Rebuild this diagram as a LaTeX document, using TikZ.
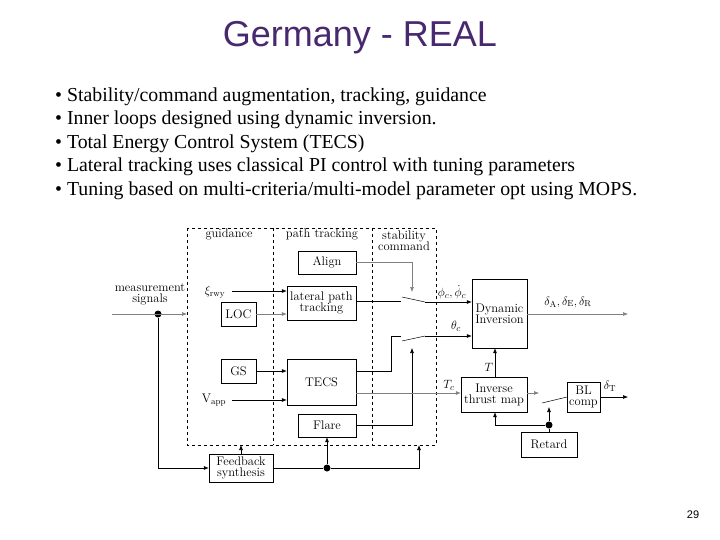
\documentclass[tikz,border=0pt]{standalone}
\usepackage{fontspec}
\usepackage{amsmath}
\newfontfamily\titlefont{Liberation Sans}
\newfontfamily\bodyfont{Liberation Serif}
\usetikzlibrary{arrows.meta}
\definecolor{titlepurple}{RGB}{72,40,110}
\tikzset{
  blk/.style={draw,inner sep=0pt,font=\fontsize{12.5}{13}\selectfont,align=center},
  lbl/.style={inner sep=0pt,font=\fontsize{12.5}{13}\selectfont,align=center},
  con/.style={-{Latex[length=5pt,width=4pt]},line width=0.6pt},
  zone/.style={draw,dashed,line width=0.5pt},
  dot/.style={circle,fill,inner sep=0pt,minimum size=7pt},
  bullet/.style={anchor=west,inner sep=0pt,font=\bodyfont\fontsize{19.8}{22}\selectfont}
}
\begin{document}
\begin{tikzpicture}[x=1pt,y=-1pt]
\useasboundingbox (0,0) rectangle (720,540);
% title and bullets
\node (title) at (360,38) {\titlefont\fontsize{36}{40}\selectfont\color{titlepurple}Germany - REAL};
\node[bullet] (b1) at (55,97) {\textbullet\ Stability/command augmentation, tracking, guidance};
\node[bullet] (b2) at (55,120) {\textbullet\ Inner loops designed using dynamic inversion.};
\node[bullet] (b3) at (55,144) {\textbullet\ Total Energy Control System (TECS)};
\node[bullet] (b4) at (55,167) {\textbullet\ Lateral tracking uses classical PI control with tuning parameters};
\node[bullet] (b5) at (55,191) {\textbullet\ Tuning based on multi-criteria/multi-model parameter opt using MOPS.};
\node (page) at (693,515) {\titlefont\fontsize{11}{12}\selectfont 29};
% dashed zones
\draw[zone] (187,228) rectangle (436,445);
\draw[zone] (273,228) -- (273,445);
\draw[zone] (372,228) -- (372,445);
\node[lbl] (tguid) at (229,234) {guidance};
\node[lbl] (tpath) at (322,234) {path tracking};
\node[lbl] (tstab) at (404,241) {stability\\[-2pt]command};
% blocks
\node[blk,minimum width=58pt,minimum height=23pt] (align) at (327,262.5) {Align};
\node[blk,minimum width=69pt,minimum height=34pt] (lat) at (321.5,303) {lateral path\\[-2pt]tracking};
\node[blk,minimum width=35pt,minimum height=24pt] (loc) at (238.5,314) {LOC};
\node[blk,minimum width=35pt,minimum height=24pt] (gs) at (238.5,371) {GS};
\node[blk,minimum width=69pt,minimum height=46pt] (tecs) at (321.5,382) {TECS};
\node[blk,minimum width=58pt,minimum height=23pt] (flare) at (327,425.5) {Flare};
\node[blk,minimum width=64pt,minimum height=28pt] (fbs) at (241,468) {Feedback\\[-2pt]synthesis};
\node[blk,minimum width=55pt,minimum height=69pt] (dyn) at (499.5,313.5) {Dynamic\\[-2pt]Inversion};
\node[blk,minimum width=66pt,minimum height=35pt] (itm) at (494,394.5) {Inverse\\[-2pt]thrust map};
\node[blk,minimum width=33pt,minimum height=30pt] (bl) at (583.5,397) {BL\\[-2pt]comp};
\node[blk,minimum width=56pt,minimum height=25pt] (ret) at (549,444.5) {Retard};
% free labels
\node[lbl] (meas) at (150,294) {measurement\\[-2pt]signals};
\node[lbl] (xi) at (215,292) {$\xi_{\mathrm{rwy}}$};
\node[lbl] (vapp) at (214,400) {$\mathrm{V_{app}}$};
\node[lbl] (phi) at (452,292) {$\phi_c,\dot\phi_c$};
\node[lbl] (theta) at (456,326) {$\theta_c$};
\node[lbl] (tlbl) at (489,367) {$T$};
\node[lbl] (tclbl) at (449,385) {$T_c$};
\node[lbl] (dlbl) at (568,302) {$\delta_{\mathrm A},\delta_{\mathrm E},\delta_{\mathrm R}$};
\node[lbl] (dtlbl) at (610,386) {$\delta_{\mathrm T}$};
% coordinates
\coordinate (min) at (112,314);
\coordinate (zin) at (187,314);
\coordinate (xis) at (232,291);
\coordinate (vas) at (232,400);
\coordinate (sw1a) at (402,297);
\coordinate (sw1b) at (425,302);
\coordinate (sw2a) at (402,341);
\coordinate (sw2b) at (425,336);
\coordinate (sw3a) at (542,403);
\coordinate (sw3b) at (567,397);
\coordinate (outA) at (628,314);
\coordinate (outT) at (628,397);
\node[dot] (d1) at (158,314) {};
\node[dot] (d2) at (327,468) {};
\node[dot] (d3) at (549,425) {};
% connectors
\draw[con,gray] (min) -- (zin);
\draw[con] (d1) |- (fbs.west);
\draw[con] (xis) -- (lat.west |- xis);
\draw[con,gray] (loc.east) -- (lat.west |- loc);
\draw[con] (gs.east) -- (tecs.west |- gs);
\draw[con] (vas) -- (tecs.west |- vas);
\draw[con] (fbs.north) -- (fbs.north |- 0,445);
\draw[line width=0.7pt] (fbs.east) -- (d2);
\draw[con] (d2) -- (flare.south);
\draw[con,line width=0.7pt] (d2) -| (419,445);
\draw[line width=0.7pt] (lat.east |- 0,301) -- (401,301);
\draw[line width=0.5pt] (sw1a) -- (sw1b);
\draw[con] (sw1b) -- (dyn.west |- sw1b);
\draw[con,gray] (align.east) -| (412,292);
\draw[line width=0.7pt] (tecs.east |- 0,371) -| (391,336) -- (401,336);
\draw[line width=0.5pt] (sw2a) -- (sw2b);
\draw[con] (sw2b) -- (dyn.west |- sw2b);
\draw[con] (flare.east) -| (412,348);
\draw[con,gray] (tecs.east |- 0,393) -- (itm.west |- 0,393);
\draw[con] (itm.north -| 495,0) -- (dyn.south -| 495,0);
\draw[con,gray] (dyn.east |- outA) -- (outA);
\draw[con,gray] (itm.east |- 0,393) -- (539,393);
\draw[line width=0.5pt] (sw3a) -- (sw3b);
\draw[con] (bl.east |- outT) -- (outT);
\draw[line width=0.7pt] (ret.north) -- (d3);
\draw[con] (d3) -- (549,407);
\draw[con] (d3) -| (itm.south -| 495,0);
\end{tikzpicture}
\end{document}
